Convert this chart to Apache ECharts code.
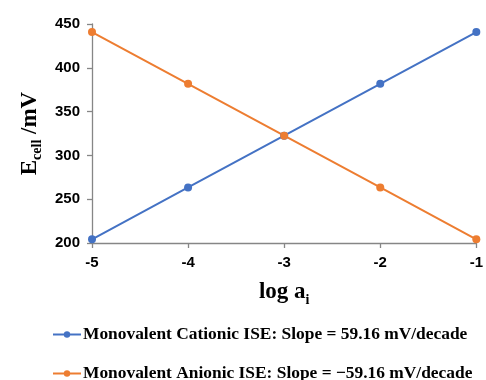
<!DOCTYPE html>
<html><head><meta charset="utf-8">
<script src="https://cdn.jsdelivr.net/npm/echarts@6/dist/echarts.min.js"></script>
<style>html,body{margin:0;padding:0;background:#fff}#c{width:486px;height:380px}</style>
</head><body><div id="c"></div>
<script>
const logA = [-5, -4, -3, -2, -1];
const cationic = [204.2, 263.4, 322.5, 381.7, 440.8];
const anionic = [440.8, 381.7, 322.5, 263.4, 204.2];
const seriesNames = ['Monovalent Cationic ISE: Slope = 59.16 mV/decade', 'Monovalent Anionic ISE: Slope = \u221259.16 mV/decade'];
const colors = ['#4472C4', '#ED7D31'];

const chart = echarts.init(document.getElementById('c'), null, {renderer: 'canvas'});
const tickFont = {fontFamily: 'Liberation Sans', fontWeight: 'bold', fontSize: 15, color: '#000'};
const axisLine = {show: true, lineStyle: {color: '#868686', width: 1.3}};
const rich = {
  a: {fontFamily: 'Liberation Serif', fontWeight: 'bold', fontSize: 23, color: '#000'},
  s: {fontFamily: 'Liberation Serif', fontWeight: 'bold', fontSize: 14, color: '#000', verticalAlign: 'bottom', padding: [0,0,-3,0]}
};
function mk(name, vals, color) {
  return {
    name: name, type: 'line', data: logA.map((x, i) => [x, vals[i]]),
    symbol: 'circle', symbolSize: 8, color: color,
    lineStyle: {width: 2, color: color}, itemStyle: {color: color}
  };
}
const legendBase = {
  left: 52, padding: 0, itemWidth: 28, itemHeight: 8,
  textStyle: {fontFamily: 'Liberation Serif', fontWeight: 'bold', fontSize: 17.4, color: '#000', padding: [0,0,0,-3]}
};
chart.setOption({
  animation: false,
  grid: {left: 92, right: 9, top: 24, bottom: 137},
  xAxis: {
    type: 'value', min: -5, max: -1, interval: 1,
    axisLine: axisLine, splitLine: {show: false},
    axisTick: {show: true, length: 5, lineStyle: {color: '#868686', width: 1.3}},
    axisLabel: Object.assign({margin: 12}, tickFont),
    name: '{a|log a}{s|i}', nameLocation: 'middle', nameGap: 38,
    nameTextStyle: {rich: rich}
  },
  yAxis: {
    type: 'value', min: 200, max: 450, interval: 50,
    axisLine: axisLine, splitLine: {show: false},
    axisTick: {show: true, length: 5, lineStyle: {color: '#868686', width: 1.3}},
    axisLabel: Object.assign({margin: 12}, tickFont),
    name: '{a|E}{s|cell}{a| /mV}', nameLocation: 'middle', nameGap: 50, nameRotate: 90,
    nameTextStyle: {rich: rich}
  },
  legend: [
    Object.assign({top: 326, data: [seriesNames[0]]}, legendBase),
    Object.assign({top: 365, data: [seriesNames[1]]}, legendBase)
  ],
  series: [mk(seriesNames[0], cationic, colors[0]), mk(seriesNames[1], anionic, colors[1])]
});
</script></body></html>
